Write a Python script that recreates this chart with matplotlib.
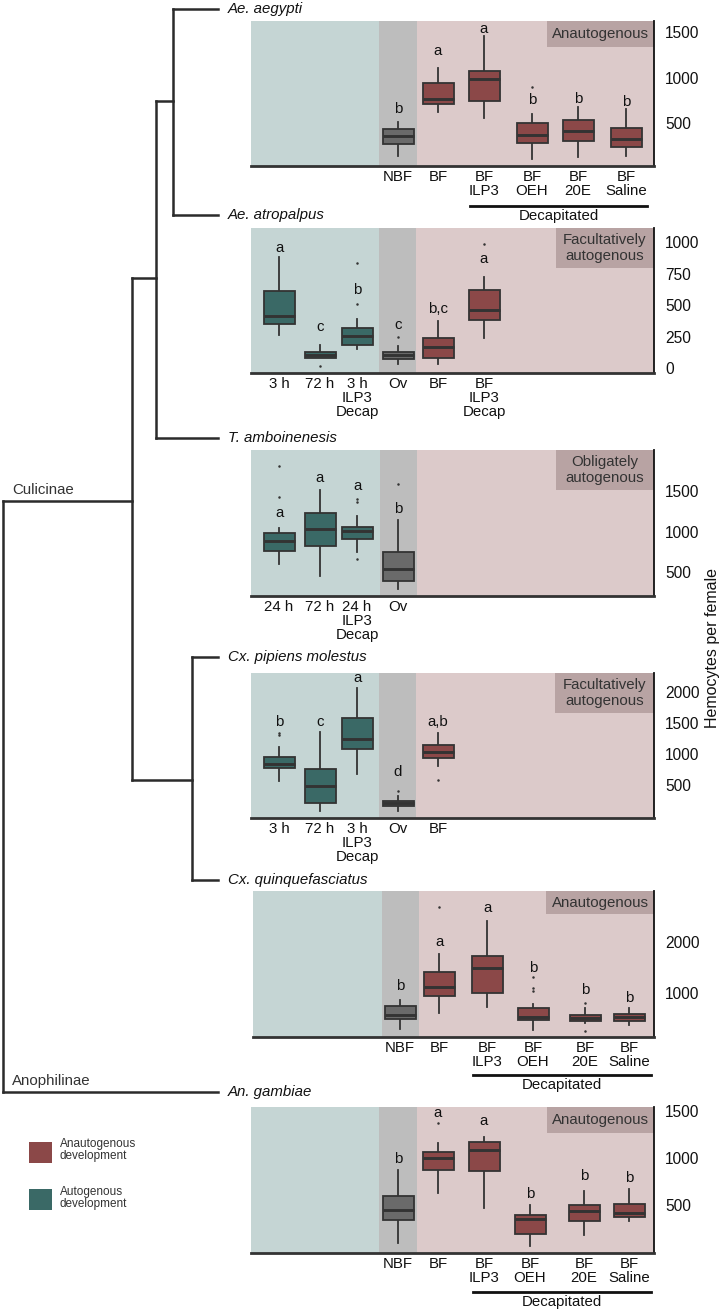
import matplotlib
matplotlib.use("Agg")
import matplotlib.pyplot as plt
from matplotlib.patches import Rectangle

plt.rcParams['font.family'] = ['Liberation Sans', 'DejaVu Sans']

# ---------------- data ----------------
# Ae. aegypti
aeg_labels = ["NBF", "BF", "BF\nILP3", "BF\nOEH", "BF\n20E", "BF\nSaline"]
aeg_kind = ["ov", "an", "an", "an", "an", "an"]
aeg_q1 = [274, 707, 747, 288, 303, 245]
aeg_med = [365, 769, 984, 372, 413, 325]
aeg_q3 = [434, 943, 1071, 500, 533, 452]
aeg_lo = [143, 627, 555, 107, 129, 146]
aeg_hi = [514, 1100, 1453, 598, 675, 656]
aeg_fliers = [[], [], [], [893], [], []]
aeg_letters = ["b", "a", "a", "b", "b", "b"]
aeg_letter_y = [655, 1289, 1529, 754, 762, 736]

# Ae. atropalpus
atr_labels = ["3 h", "72 h", "3 h\nILP3\nDecap", "Ov", "BF", "BF\nILP3\nDecap"]
atr_kind = ["au", "au", "au", "ov", "an", "an"]
atr_q1 = [353, 81, 181, 75, 81, 385]
atr_med = [411, 104, 252, 104, 165, 464]
atr_q3 = [615, 126, 319, 129, 240, 623]
atr_lo = [261, 81, 155, 33, 33, 240]
atr_hi = [882, 181, 393, 173, 375, 724]
atr_fliers = [[], [15], [512, 835], [250], [], [988]]
atr_letters = ["a", "c", "b", "c", "b,c", "a"]
atr_letter_y = [959, 324, 623, 340, 472, 869]

# T. amboinenesis
amb_labels = ["24 h", "72 h", "24 h\nILP3\nDecap", "Ov"]
amb_kind = ["au", "au", "au", "ov"]
amb_q1 = [763, 821, 904, 393]
amb_med = [883, 1031, 1006, 541]
amb_q3 = [978, 1232, 1052, 743]
amb_lo = [595, 454, 751, 290]
amb_hi = [1040, 1512, 1195, 1142]
amb_fliers = [[1422, 1809], [], [660, 1360, 1397], [1586]]
amb_letters = ["a", "a", "a", "b"]
amb_letter_y = [1225, 1657, 1562, 1274]

# Cx. pipiens molestus
pip_labels = ["3 h", "72 h", "3 h\nILP3\nDecap", "Ov", "BF"]
pip_kind = ["au", "au", "au", "ov", "an"]
pip_q1 = [779, 205, 1086, 166, 930]
pip_med = [844, 489, 1237, 210, 1037]
pip_q3 = [947, 758, 1586, 247, 1145]
pip_lo = [569, 86, 677, 86, 811]
pip_hi = [1108, 1350, 2070, 327, 1334]
pip_fliers = [[1300, 1340], [], [], [408], [581]]
pip_letters = ["b", "c", "a", "d", "a,b"]
pip_letter_y = [1521, 1521, 2221, 715, 1521]

# Cx. quinquefasciatus
qui_labels = ["NBF", "BF", "BF\nILP3", "BF\nOEH", "BF\n20E", "BF\nSaline"]
qui_kind = ["ov", "an", "an", "an", "an", "an"]
qui_q1 = [484, 941, 1006, 471, 451, 451]
qui_med = [563, 1112, 1496, 535, 516, 524]
qui_q3 = [751, 1412, 1732, 712, 569, 588]
qui_lo = [294, 614, 732, 275, 406, 373]
qui_hi = [863, 1759, 2412, 778, 712, 700]
qui_fliers = [[], [2692], [], [1040, 1100, 1308], [261, 798], []]
qui_letters = ["b", "a", "a", "b", "b", "b"]
qui_letter_y = [1137, 1994, 2661, 1484, 1059, 908]

# An. gambiae
gam_labels = ["NBF", "BF", "BF\nILP3", "BF\nOEH", "BF\n20E", "BF\nSaline"]
gam_kind = ["ov", "an", "an", "an", "an", "an"]
gam_q1 = [339, 869, 858, 188, 320, 363]
gam_med = [446, 995, 1084, 346, 428, 411]
gam_q3 = [589, 1067, 1170, 385, 492, 507]
gam_lo = [88, 626, 465, 52, 177, 328]
gam_hi = [876, 1163, 1224, 500, 651, 672]
gam_fliers = [[], [1379], [], [], [], []]
gam_letters = ["b", "a", "a", "b", "b", "b"]
gam_letter_y = [991, 1486, 1396, 615, 804, 787]

species = ["Ae. aegypti", "Ae. atropalpus", "T. amboinenesis",
           "Cx. pipiens molestus", "Cx. quinquefasciatus", "An. gambiae"]
modes = ["Anautogenous", "Facultatively\nautogenous", "Obligately\nautogenous",
         "Facultatively\nautogenous", "Anautogenous", "Anautogenous"]
yticks = [[500, 1000, 1500], [0, 250, 500, 750, 1000], [500, 1000, 1500],
          [500, 1000, 1500, 2000], [1000, 2000], [500, 1000, 1500]]

# ---------------- layout (pixels) ----------------
W, H = 724, 1313
fig = plt.figure(figsize=(W / 100, H / 100), dpi=100)

BG_AU, BG_OV, BG_AN, BG_TAG = "#c5d5d4", "#bdbdbd", "#dccaca", "#b8a3a3"
BOX = {"an": "#8b4848", "au": "#3a6966", "ov": "#6a6a6a"}
INK = "#333333"
FS = 10.8

panels = [
    dict(rect=(251, 21, 654, 166), ylim=(34, 1617), split=(379, 417),
         pos=[398, 438, 484, 532, 578, 626], tag=(547, 47), decap=(470, 647, 206)),
    dict(rect=(251, 228, 654, 373), ylim=(-40, 1115), split=(379, 416),
         pos=[279, 320, 357, 398, 438, 484], tag=(556, 268), decap=None),
    dict(rect=(251, 450, 654, 596), ylim=(204, 2006), split=(380, 417),
         pos=[279, 320, 357, 398], tag=(556, 490), decap=None),
    dict(rect=(251, 673, 654, 818), ylim=(-32, 2306), split=(379, 416),
         pos=[279, 320, 357, 398, 438], tag=(555, 713), decap=None),
    dict(rect=(253, 891, 654, 1037), ylim=(137, 3000), split=(382, 419),
         pos=[400, 439, 487, 533, 585, 629], tag=(546, 914), decap=(473, 651, 1075)),
    dict(rect=(251, 1107, 654, 1253), ylim=(-20, 1548), split=(379, 417),
         pos=[398, 438, 484, 530, 584, 629], tag=(547, 1133), decap=(473, 651, 1292)),
]
series = [
    (aeg_labels, aeg_kind, aeg_q1, aeg_med, aeg_q3, aeg_lo, aeg_hi, aeg_fliers, aeg_letters, aeg_letter_y),
    (atr_labels, atr_kind, atr_q1, atr_med, atr_q3, atr_lo, atr_hi, atr_fliers, atr_letters, atr_letter_y),
    (amb_labels, amb_kind, amb_q1, amb_med, amb_q3, amb_lo, amb_hi, amb_fliers, amb_letters, amb_letter_y),
    (pip_labels, pip_kind, pip_q1, pip_med, pip_q3, pip_lo, pip_hi, pip_fliers, pip_letters, pip_letter_y),
    (qui_labels, qui_kind, qui_q1, qui_med, qui_q3, qui_lo, qui_hi, qui_fliers, qui_letters, qui_letter_y),
    (gam_labels, gam_kind, gam_q1, gam_med, gam_q3, gam_lo, gam_hi, gam_fliers, gam_letters, gam_letter_y),
]

# overlay axes in pixel coordinates for the tree and loose text
ov = fig.add_axes([0, 0, 1, 1])
ov.set_xlim(0, W)
ov.set_ylim(H, 0)
ov.axis("off")

tree_lw = 1.8
tree_c = "#2b2b2b"
tip_y = [9, 215, 438, 657, 880, 1092]
segs = [
    ((3, 3), (501, 1092)), ((3, 132), (501, 501)), ((3, 218), (1092, 1092)),
    ((132, 132), (278, 780)), ((132, 156), (278, 278)), ((132, 192), (780, 780)),
    ((156, 156), (101, 438)), ((156, 173), (101, 101)), ((156, 218), (438, 438)),
    ((173, 173), (9, 215)), ((173, 218), (9, 9)), ((173, 218), (215, 215)),
    ((192, 192), (657, 880)), ((192, 218), (657, 657)), ((192, 218), (880, 880)),
]
for xs, ys in segs:
    ov.plot(xs, ys, color=tree_c, lw=tree_lw, solid_capstyle="projecting")
ov.text(12, 497, "Culicinae", fontsize=FS, color=INK, va="bottom")
ov.text(12, 1088, "Anophilinae", fontsize=FS, color=INK, va="bottom")
for name, y in zip(species, tip_y):
    ov.text(228, y, name, fontsize=FS, style="italic", va="center", color="#111111")

# legend
ov.add_patch(Rectangle((29, 1142), 23, 21, color=BOX["an"], lw=0))
ov.add_patch(Rectangle((29, 1189), 23, 21, color=BOX["au"], lw=0))
ov.text(60, 1150, "Anautogenous\ndevelopment", fontsize=8.5, va="center",
        color=INK, linespacing=0.95)
ov.text(60, 1198, "Autogenous\ndevelopment", fontsize=8.5, va="center",
        color=INK, linespacing=0.95)

ov.text(713, 648, "Hemocytes per female", rotation=90, fontsize=11.5,
        va="center", ha="center", color="#111111")

for idx, (p, s) in enumerate(zip(panels, series)):
    labels, kind, q1, med, q3, lo, hi, fl, letters, letter_y = s
    l, t, r, b = p["rect"]
    ax = fig.add_axes([l / W, 1 - b / H, (r - l) / W, (b - t) / H])
    ax.set_xlim(l, r)
    ax.set_ylim(*p["ylim"])
    ax.axvspan(l, p["split"][0], color=BG_AU, lw=0, zorder=0)
    ax.axvspan(p["split"][0], p["split"][1], color=BG_OV, lw=0, zorder=0)
    ax.axvspan(p["split"][1], r, color=BG_AN, lw=0, zorder=0)

    # tag box with development mode
    tx, tb = p["tag"]
    ax.add_patch(Rectangle(((tx - l) / (r - l), (b - tb) / (b - t)),
                           (r - tx) / (r - l), (tb - t) / (b - t),
                           transform=ax.transAxes, color=BG_TAG, lw=0, zorder=1))
    ax.text(((tx + r) / 2 - l) / (r - l), (b - (t + tb) / 2) / (b - t), modes[idx],
            transform=ax.transAxes, ha="center", va="center", fontsize=FS,
            color=INK, linespacing=1.25, zorder=2)

    stats = []
    for i in range(len(labels)):
        stats.append(dict(med=med[i], q1=q1[i], q3=q3[i], whislo=lo[i],
                          whishi=hi[i], fliers=fl[i]))
    bp = ax.bxp(stats, positions=p["pos"], widths=31, patch_artist=True,
                showcaps=False, manage_ticks=False,
                boxprops=dict(edgecolor=INK, lw=1.3),
                medianprops=dict(color=INK, lw=2.1),
                whiskerprops=dict(color=INK, lw=1.3),
                flierprops=dict(marker="o", ms=1.8, mfc=INK, mec="none"))
    for patch, k in zip(bp["boxes"], kind):
        patch.set_facecolor(BOX[k])
        patch.set_zorder(3)
    for part in ("medians", "whiskers", "fliers"):
        for a in bp[part]:
            a.set_zorder(4 if part == "medians" else 2.5)

    for x, txt, y in zip(p["pos"], letters, letter_y):
        ax.text(x, y, txt, ha="center", va="center", fontsize=FS, color="#111111", zorder=5)

    ax.set_xticks(p["pos"])
    ax.set_xticklabels(labels, fontsize=FS, linespacing=1.0, color="#111111")
    ax.tick_params(axis="x", length=0, pad=3)
    ax.yaxis.tick_right()
    ax.set_yticks(yticks[idx])
    ax.tick_params(axis="y", length=0, pad=8, labelsize=11.2, labelcolor="#111111")
    for side in ("top", "left"):
        ax.spines[side].set_visible(False)
    ax.spines["bottom"].set_color(INK)
    ax.spines["bottom"].set_linewidth(2.0)
    ax.spines["right"].set_color("#111111")
    ax.spines["right"].set_linewidth(1.3)

    if p["decap"]:
        x0, x1, y0 = p["decap"]
        ov.plot([x0, x1], [y0, y0], color="#111111", lw=2.0)
        ov.text((x0 + x1) / 2, y0 + 3, "Decapitated", ha="center", va="top",
                fontsize=FS, color="#111111")

fig.savefig("out.png", dpi=100)
